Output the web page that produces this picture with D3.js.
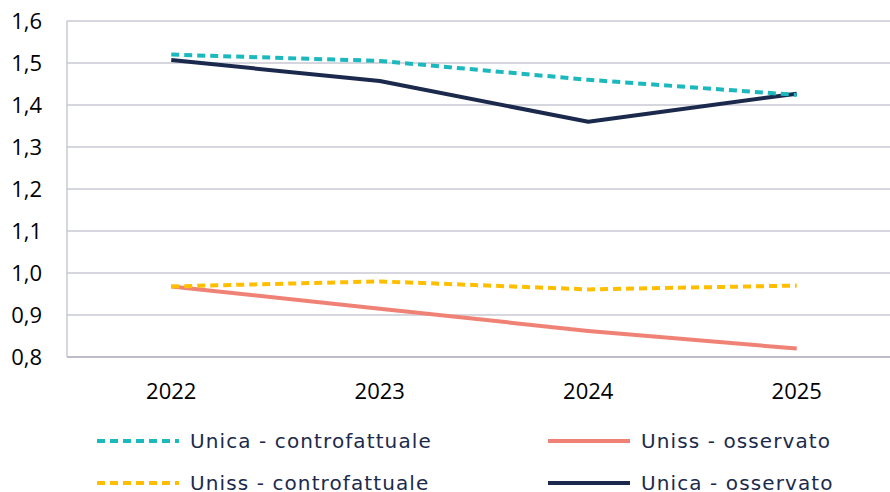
<!DOCTYPE html>
<html>
<head>
<meta charset="utf-8">
<script src="https://cdn.jsdelivr.net/npm/d3@7"></script>
<style>
  body { margin: 0; background: #fff; }
  #chart { width: 890px; height: 492px; overflow: hidden; }
</style>
</head>
<body>
<div id="chart"></div>
<script>
// data
var years = ["2022", "2023", "2024", "2025"];
var unicaControfattuale = [1.52, 1.505, 1.46, 1.424];
var unicaOsservato = [1.507, 1.457, 1.36, 1.427];
var unissControfattuale = [0.968, 0.98, 0.961, 0.97];
var unissOsservato = [0.968, 0.915, 0.862, 0.82];
var yTicks = [0.8, 0.9, 1.0, 1.1, 1.2, 1.3, 1.4, 1.5, 1.6];

var series = [
    { name: "Unica - controfattuale", values: unicaControfattuale, color: "#1bb8bd", dash: "8,5" },
    { name: "Uniss - osservato", values: unissOsservato, color: "#f08275", dash: null },
    { name: "Uniss - controfattuale", values: unissControfattuale, color: "#ffbf00", dash: "8,5" },
    { name: "Unica - osservato", values: unicaOsservato, color: "#1b2a4c", dash: null }
];

var margin = { top: 21, left: 67 };
var width = 834, height = 336;

var svg = d3.select("#chart").append("svg")
    .attr("width", 890)
    .attr("height", 492);

var g = svg.append("g")
    .attr("transform", "translate(" + margin.left + "," + margin.top + ")");

var x = d3.scaleBand().domain(years).range([0, width]);
var y = d3.scaleLinear().domain([0.8, 1.6]).range([height, 0]);

// gridlines
g.selectAll(".grid").data(yTicks).enter().append("line")
    .attr("x1", 0).attr("x2", width)
    .attr("y1", function (d) { return y(d); })
    .attr("y2", function (d) { return y(d); })
    .attr("stroke", function (d) { return d === 0.8 ? "#bdbccb" : "#c9c8d3"; })
    .attr("stroke-width", function (d) { return d === 0.8 ? 2 : 1.5; });

// left axis line
g.append("line")
    .attr("x1", 0).attr("x2", 0)
    .attr("y1", 0).attr("y2", height)
    .attr("stroke", "#c9c8d3").attr("stroke-width", 1.5);

// y labels
var fmt = function (d) { return d3.format(".1f")(d).replace(".", ","); };
g.selectAll(".ylab").data(yTicks).enter().append("text")
    .attr("x", -25)
    .attr("y", function (d) { return y(d); })
    .attr("dy", "0.36em")
    .attr("text-anchor", "end")
    .style("font-family", "'Open Sans', sans-serif")
    .style("font-size", "22px")
    .attr("fill", "#000")
    .text(fmt);

// x labels
g.selectAll(".xlab").data(years).enter().append("text")
    .attr("x", function (d) { return x(d) + x.bandwidth() / 2; })
    .attr("y", height + 42)
    .attr("text-anchor", "middle")
    .style("font-family", "'Open Sans', sans-serif")
    .style("font-size", "22px")
    .attr("fill", "#000")
    .text(function (d) { return d; });

var line = d3.line()
    .x(function (d, i) { return x(years[i]) + x.bandwidth() / 2; })
    .y(function (d) { return y(d); });

// draw order: uniss osservato, uniss controf., unica osservato, unica controf.
var drawOrder = [1, 2, 3, 0];
drawOrder.forEach(function (k) {
    var s = series[k];
    g.append("path")
        .datum(s.values)
        .attr("d", line)
        .attr("fill", "none")
        .attr("stroke", s.color)
        .attr("stroke-width", 4)
        .attr("stroke-dasharray", s.dash)
        .attr("stroke-linejoin", "round");
});

// legend
var legendPos = [[97, 441], [548, 441], [97, 483], [548, 483]];
series.forEach(function (s, i) {
    var lx = legendPos[i][0], ly = legendPos[i][1];
    svg.append("line")
        .attr("x1", lx).attr("x2", lx + 82)
        .attr("y1", ly).attr("y2", ly)
        .attr("stroke", s.color)
        .attr("stroke-width", 4)
        .attr("stroke-dasharray", s.dash);
    svg.append("text")
        .attr("x", lx + 93)
        .attr("y", ly)
        .attr("dy", "0.35em")
        .style("font-family", "'DejaVu Sans', sans-serif")
        .style("font-size", "20px")
        .style("letter-spacing", "1.1px")
        .attr("fill", "#1b2a4c")
        .text(s.name);
});
</script>
</body>
</html>
